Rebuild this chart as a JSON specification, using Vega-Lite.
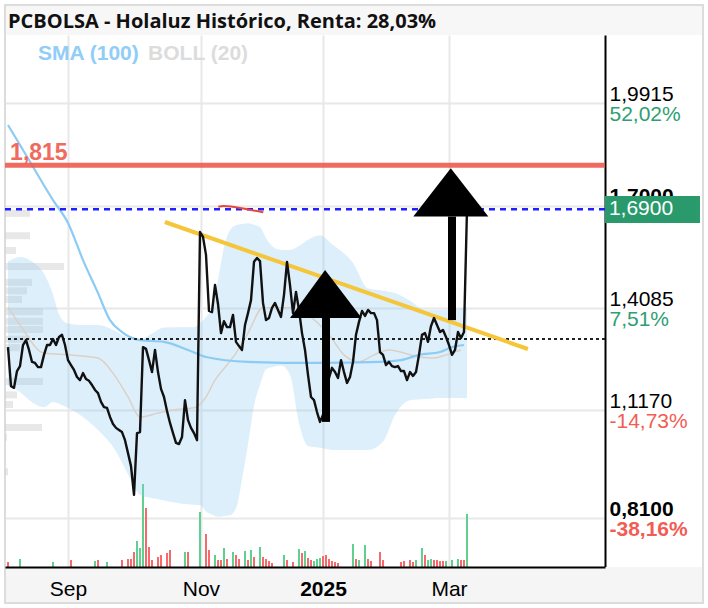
{
  "$schema": "https://vega.github.io/schema/vega-lite/v6.json",
  "width": 600,
  "height": 532,
  "autosize": {"type": "none"},
  "padding": {"left": 5, "top": 35, "right": 103, "bottom": 41},
  "background": "white",
  "config": {"view": {"stroke": null}, "font": "Liberation Sans"},
  "data": {"values": [{"k": 1}]},
  "datasets": {
    "price": [
      {"i":-20,"p":1.297},{"i":-19,"p":1.186},{"i":-18,"p":1.181},{"i":-17,"p":1.229},{"i":-16,"p":1.243},{"i":-15,"p":1.303},{"i":-14,"p":1.317},{"i":-13,"p":1.289},{"i":-12,"p":1.255},{"i":-11,"p":1.252},
      {"i":-10,"p":1.240},{"i":-9,"p":1.240},{"i":-8,"p":1.275},{"i":-7,"p":1.303},{"i":-6,"p":1.303},{"i":-5,"p":1.320},{"i":-4,"p":1.303},{"i":-3,"p":1.326},{"i":-2,"p":1.332},{"i":-1,"p":1.303},
      {"i":0,"p":1.260},{"i":1,"p":1.246},{"i":2,"p":1.232},{"i":3,"p":1.212},{"i":4,"p":1.203},{"i":5,"p":1.223},{"i":6,"p":1.206},{"i":7,"p":1.201},{"i":8,"p":1.189},{"i":9,"p":1.175},
      {"i":10,"p":1.166},{"i":11,"p":1.141},{"i":12,"p":1.126},{"i":13,"p":1.124},{"i":14,"p":1.098},{"i":15,"p":1.078},{"i":16,"p":1.067},{"i":17,"p":1.061},{"i":18,"p":1.055},{"i":19,"p":1.032},
      {"i":20,"p":0.995},{"i":21,"p":0.958},{"i":22,"p":0.876},{"i":23,"p":1.052},{"i":24,"p":1.055},{"i":25,"p":1.297},{"i":26,"p":1.292},{"i":27,"p":1.260},{"i":28,"p":1.226},{"i":29,"p":1.289},
      {"i":30,"p":1.226},{"i":31,"p":1.178},{"i":32,"p":1.155},{"i":33,"p":1.115},{"i":34,"p":1.081},{"i":35,"p":1.052},{"i":36,"p":1.024},{"i":37,"p":1.021},{"i":38,"p":1.041},{"i":39,"p":1.146},
      {"i":40,"p":1.089},{"i":41,"p":1.067},{"i":42,"p":1.052},{"i":43,"p":1.032},{"i":44,"p":1.625},{"i":45,"p":1.611},{"i":46,"p":1.560},{"i":47,"p":1.400},{"i":48,"p":1.397},{"i":49,"p":1.474},
      {"i":50,"p":1.420},{"i":51,"p":1.337},{"i":52,"p":1.371},{"i":53,"p":1.354},{"i":54,"p":1.354},{"i":55,"p":1.389},{"i":56,"p":1.312},{"i":57,"p":1.300},{"i":58,"p":1.289},{"i":59,"p":1.360},
      {"i":60,"p":1.394},{"i":61,"p":1.431},{"i":62,"p":1.540},{"i":63,"p":1.551},{"i":64,"p":1.542},{"i":65,"p":1.423},{"i":66,"p":1.374},{"i":67,"p":1.380},{"i":68,"p":1.409},{"i":69,"p":1.423},
      {"i":70,"p":1.403},{"i":71,"p":1.383},{"i":72,"p":1.446},{"i":73,"p":1.540},{"i":74,"p":1.474},{"i":75,"p":1.394},{"i":76,"p":1.454},{"i":77,"p":1.403},{"i":78,"p":1.337},{"i":79,"p":1.289},
      {"i":80,"p":1.218},{"i":81,"p":1.155},{"i":82,"p":1.146},{"i":83,"p":1.112},{"i":84,"p":1.084},{"i":85,"p":1.104},{"i":86,"p":1.161},{"i":87,"p":1.209},{"i":88,"p":1.238},{"i":89,"p":1.226},
      {"i":90,"p":1.209},{"i":91,"p":1.260},{"i":92,"p":1.226},{"i":93,"p":1.195},{"i":94,"p":1.212},{"i":95,"p":1.255},{"i":96,"p":1.332},{"i":97,"p":1.369},{"i":98,"p":1.400},{"i":99,"p":1.386},
      {"i":100,"p":1.403},{"i":101,"p":1.394},{"i":102,"p":1.394},{"i":103,"p":1.374},{"i":104,"p":1.283},{"i":105,"p":1.275},{"i":106,"p":1.246},{"i":107,"p":1.255},{"i":108,"p":1.243},{"i":109,"p":1.240},
      {"i":110,"p":1.243},{"i":111,"p":1.229},{"i":112,"p":1.229},{"i":113,"p":1.203},{"i":114,"p":1.226},{"i":115,"p":1.215},{"i":116,"p":1.226},{"i":117,"p":1.275},{"i":118,"p":1.332},{"i":119,"p":1.337},
      {"i":120,"p":1.312},{"i":121,"p":1.357},{"i":122,"p":1.380},{"i":123,"p":1.360},{"i":124,"p":1.340},{"i":125,"p":1.346},{"i":126,"p":1.326},{"i":127,"p":1.303},{"i":128,"p":1.275},{"i":129,"p":1.289},
      {"i":130,"p":1.340},{"i":131,"p":1.323},{"i":132,"p":1.340},{"i":133,"p":1.690}
    ],
    "vol": [
      {"i":-20,"v":5,"d":"down"},{"i":-16,"v":8,"d":"up"},{"i":-5,"v":5,"d":"up"},{"i":1,"v":7,"d":"down"},{"i":9,"v":6,"d":"up"},{"i":10,"v":7,"d":"down"},{"i":13,"v":5,"d":"up"},{"i":18,"v":7,"d":"down"},
      {"i":20,"v":8,"d":"down"},{"i":21,"v":8,"d":"down"},{"i":22,"v":15,"d":"down"},{"i":23,"v":26,"d":"up"},{"i":24,"v":19,"d":"up"},{"i":25,"v":83,"d":"up"},{"i":26,"v":59,"d":"down"},{"i":27,"v":20,"d":"down"},
      {"i":28,"v":7,"d":"down"},{"i":30,"v":10,"d":"down"},{"i":31,"v":12,"d":"down"},{"i":33,"v":14,"d":"down"},{"i":34,"v":17,"d":"down"},{"i":39,"v":15,"d":"up"},{"i":40,"v":15,"d":"down"},
      {"i":44,"v":55,"d":"up"},{"i":46,"v":33,"d":"down"},{"i":47,"v":17,"d":"down"},{"i":49,"v":12,"d":"up"},{"i":50,"v":7,"d":"down"},{"i":51,"v":7,"d":"down"},{"i":52,"v":19,"d":"up"},{"i":53,"v":8,"d":"down"},
      {"i":55,"v":15,"d":"up"},{"i":56,"v":12,"d":"down"},{"i":57,"v":8,"d":"down"},{"i":59,"v":16,"d":"up"},{"i":60,"v":7,"d":"down"},{"i":61,"v":17,"d":"up"},{"i":62,"v":10,"d":"down"},{"i":64,"v":20,"d":"up"},
      {"i":65,"v":10,"d":"down"},{"i":66,"v":8,"d":"down"},{"i":67,"v":6,"d":"down"},{"i":68,"v":4,"d":"down"},{"i":72,"v":12,"d":"up"},{"i":73,"v":7,"d":"down"},{"i":75,"v":5,"d":"down"},{"i":77,"v":18,"d":"up"},
      {"i":78,"v":14,"d":"down"},{"i":79,"v":16,"d":"up"},{"i":80,"v":9,"d":"down"},{"i":81,"v":7,"d":"down"},{"i":82,"v":6,"d":"up"},{"i":83,"v":8,"d":"up"},{"i":84,"v":9,"d":"up"},{"i":85,"v":11,"d":"down"},
      {"i":86,"v":12,"d":"down"},{"i":87,"v":8,"d":"down"},{"i":88,"v":6,"d":"down"},{"i":89,"v":5,"d":"down"},{"i":90,"v":4,"d":"down"},{"i":95,"v":23,"d":"up"},{"i":96,"v":8,"d":"down"},{"i":97,"v":7,"d":"up"},
      {"i":99,"v":22,"d":"up"},{"i":100,"v":8,"d":"down"},{"i":101,"v":6,"d":"down"},{"i":104,"v":15,"d":"down"},{"i":105,"v":7,"d":"down"},{"i":111,"v":5,"d":"down"},{"i":112,"v":6,"d":"down"},{"i":114,"v":7,"d":"down"},
      {"i":115,"v":5,"d":"down"},{"i":116,"v":7,"d":"up"},{"i":118,"v":19,"d":"up"},{"i":119,"v":12,"d":"down"},{"i":120,"v":7,"d":"up"},{"i":121,"v":8,"d":"up"},{"i":122,"v":7,"d":"down"},{"i":123,"v":7,"d":"down"},
      {"i":124,"v":6,"d":"down"},{"i":125,"v":6,"d":"down"},{"i":126,"v":6,"d":"up"},{"i":128,"v":7,"d":"up"},{"i":130,"v":8,"d":"up"},{"i":131,"v":7,"d":"down"},{"i":132,"v":7,"d":"down"},{"i":133,"v":53,"d":"up"}
    ],
    "profile": [
      {"p":1.683,"w":25},{"p":1.618,"w":25},{"p":1.575,"w":11},{"p":1.5285,"w":59},{"p":1.4825,"w":27},{"p":1.458,"w":22},{"p":1.433,"w":17},{"p":1.397,"w":38},{"p":1.370,"w":38},
      {"p":1.3455,"w":38},{"p":1.3175,"w":25},{"p":1.293,"w":15},{"p":1.195,"w":38},{"p":1.156,"w":12},{"p":1.128,"w":8},{"p":1.061,"w":37},{"p":1.0325,"w":2},{"p":0.9325,"w":3}
    ],
    "band": [
      {"i":-20,"hi":1.541,"lo":1.188},{"i":-16,"hi":1.554,"lo":1.169},{"i":-12,"hi":1.541,"lo":1.140},{"i":-8,"hi":1.506,"lo":1.126},{"i":-5,"hi":1.448,"lo":1.141},{"i":-3,"hi":1.390,"lo":1.136},
      {"i":0,"hi":1.364,"lo":1.124},{"i":4,"hi":1.360,"lo":1.104},{"i":10,"hi":1.360,"lo":1.061},{"i":16,"hi":1.342,"lo":1.000},{"i":20,"hi":1.324,"lo":0.935},{"i":24,"hi":1.319,"lo":0.876},
      {"i":28,"hi":1.336,"lo":0.867},{"i":32,"hi":1.353,"lo":0.860},{"i":38,"hi":1.354,"lo":0.851},{"i":42,"hi":1.354,"lo":0.848},{"i":44,"hi":1.365,"lo":0.847},{"i":46,"hi":1.383,"lo":0.829},
      {"i":48,"hi":1.411,"lo":0.820},{"i":50,"hi":1.488,"lo":0.814},{"i":52,"hi":1.582,"lo":0.816},{"i":54,"hi":1.630,"lo":0.818},{"i":56,"hi":1.644,"lo":0.838},{"i":58,"hi":1.648,"lo":0.920},
      {"i":60,"hi":1.650,"lo":1.020},{"i":62,"hi":1.646,"lo":1.130},{"i":64,"hi":1.639,"lo":1.190},{"i":66,"hi":1.608,"lo":1.234},{"i":68,"hi":1.585,"lo":1.240},{"i":71,"hi":1.574,"lo":1.245},
      {"i":74,"hi":1.574,"lo":1.218},{"i":77,"hi":1.585,"lo":1.080},{"i":80,"hi":1.603,"lo":1.015},{"i":84,"hi":1.616,"lo":1.010},{"i":88,"hi":1.590,"lo":1.004},{"i":95,"hi":1.537,"lo":1.004},
      {"i":100,"hi":1.464,"lo":1.004},{"i":105,"hi":1.458,"lo":1.028},{"i":109,"hi":1.451,"lo":1.104},{"i":114,"hi":1.429,"lo":1.146},{"i":119,"hi":1.403,"lo":1.149},{"i":124,"hi":1.403,"lo":1.152},
      {"i":129,"hi":1.406,"lo":1.152},{"i":133,"hi":1.411,"lo":1.152}
    ],
    "mid": [
      {"i":-20,"p":1.411},{"i":-16,"p":1.360},{"i":-8,"p":1.280},{"i":0,"p":1.275},{"i":10,"p":1.266},{"i":15,"p":1.223},{"i":20,"p":1.155},{"i":24,"p":1.098},{"i":30,"p":1.109},{"i":35,"p":1.118},
      {"i":42,"p":1.124},{"i":46,"p":1.155},{"i":49,"p":1.203},{"i":53,"p":1.246},{"i":56,"p":1.280},{"i":60,"p":1.337},{"i":65,"p":1.409},{"i":76,"p":1.409},{"i":80,"p":1.389},{"i":87,"p":1.332},
      {"i":92,"p":1.275},{"i":97,"p":1.255},{"i":102,"p":1.275},{"i":107,"p":1.289},{"i":117,"p":1.269},{"i":122,"p":1.266},{"i":126,"p":1.275},{"i":131,"p":1.289}
    ],
    "sma": [
      {"i":-20,"p":1.930},{"i":-13,"p":1.830},{"i":-5,"p":1.716},{"i":0,"p":1.651},{"i":5,"p":1.545},{"i":10,"p":1.451},{"i":14,"p":1.374},{"i":18,"p":1.340},{"i":24,"p":1.317},{"i":32,"p":1.312},
      {"i":40,"p":1.289},{"i":46,"p":1.269},{"i":60,"p":1.255},{"i":82,"p":1.252},{"i":104,"p":1.255},{"i":111,"p":1.260},{"i":117,"p":1.275},{"i":124,"p":1.283},{"i":128,"p":1.297},{"i":132,"p":1.303}
    ],
    "trend": [{"i":32.3,"p":1.6535,"i2":153.3,"p2":1.2917}],
    "redmark": [{"i":50.1,"p":1.697},{"i":51.8,"p":1.699},{"i":59.6,"p":1.690},{"i":65.1,"p":1.681}],
    "heads": [
      {"g":"a","i":74,"top":1.380,"base":1.380},{"g":"a","i":85.7,"top":1.517,"base":1.380},{"g":"a","i":97.9,"top":1.380,"base":1.380},
      {"g":"b","i":115.1,"top":1.669,"base":1.669},{"g":"b","i":127.6,"top":1.807,"base":1.669},{"g":"b","i":140.1,"top":1.669,"base":1.669}
    ],
    "shafts": [{"i":86,"p1":1.380,"p2":1.084},{"i":128,"p1":1.669,"p2":1.374}]
  },
  "layer": [
    {
      "mark": {"type": "point", "shape": "M-1,-0.043H1V0.043H-1Z", "size": 487204, "filled": true, "color": "#f7f7f7", "opacity": 1, "clip": false},
      "encoding": {
        "x": {"datum": 95.333, "type": "quantitative", "scale": {"domain": [-21, 179], "nice": false, "zero": false, "padding": 0}, "axis": null},
        "y": {"datum": 2.229, "type": "quantitative", "scale": {"domain": [0.6706, 2.1863], "nice": false, "zero": false}, "axis": null}
      }
    },
    {
      "mark": {"type": "point", "shape": "M-1,-0.0516H1V0.0516H-1Z", "size": 487204, "filled": true, "color": "#f5f5f5", "opacity": 1, "clip": false},
      "encoding": {
        "x": {"datum": 95.333, "type": "quantitative", "scale": {"domain": [-21, 179], "nice": false, "zero": false, "padding": 0}, "axis": null},
        "y": {"datum": 0.6193, "type": "quantitative", "scale": {"domain": [0.6706, 2.1863], "nice": false, "zero": false}, "axis": null}
      }
    },
    {
      "mark": {"type": "point", "shape": "M-1,-0.8567H1V0.8567H-1Z", "size": 487204, "filled": false, "color": "#dcdcdc", "strokeWidth": 2, "opacity": 1, "clip": false},
      "encoding": {
        "x": {"datum": 95.333, "type": "quantitative", "scale": {"domain": [-21, 179], "nice": false, "zero": false, "padding": 0}, "axis": null},
        "y": {"datum": 1.4199, "type": "quantitative", "scale": {"domain": [0.6706, 2.1863], "nice": false, "zero": false}, "axis": null}
      }
    },
    {
      "mark": {"type": "text", "align": "left", "baseline": "alphabetic", "fontSize": 20, "fontWeight": "bold", "font": "Open Sans", "color": "#111111", "clip": false, "text": "PCBOLSA - Holaluz Histórico, Renta: 28,03%"},
      "encoding": {
        "x": {"datum": -20, "type": "quantitative", "scale": {"domain": [-21, 179], "nice": false, "zero": false, "padding": 0}, "axis": null},
        "y": {"datum": 2.2062, "type": "quantitative", "scale": {"domain": [0.6706, 2.1863], "nice": false, "zero": false}, "axis": null}
      }
    },
    {
      "data": {"name": "profile"},
      "mark": {"type": "bar", "orient": "horizontal", "size": 7, "color": "#d2d2d2", "opacity": 0.5},
      "encoding": {
        "x": {"field": "w", "type": "quantitative", "scale": {"domain": [0, 600], "nice": false, "padding": 0}, "axis": null},
        "y": {"field": "p", "type": "quantitative", "scale": {"domain": [0.6706, 2.1863], "nice": false, "zero": false}, "axis": null}
      }
    },
    {
      "data": {"name": "vol"},
      "mark": {"type": "bar", "size": 2},
      "encoding": {
        "x": {"field": "i", "type": "quantitative", "scale": {"domain": [-21, 179], "nice": false, "zero": false, "padding": 0}, "axis": null},
        "y": {"field": "v", "type": "quantitative", "stack": null, "scale": {"domain": [0, 532], "nice": false}, "axis": null},
        "color": {"field": "d", "type": "nominal", "scale": {"domain": ["up", "down"], "range": ["#5fd08f", "#f56a6a"]}, "legend": null}
      }
    },
    {
      "data": {"name": "band"},
      "mark": {"type": "area", "color": "#8fc9f2", "opacity": 0.3, "interpolate": "monotone"},
      "encoding": {
        "x": {"field": "i", "type": "quantitative", "scale": {"domain": [-21, 179], "nice": false, "zero": false, "padding": 0},
          "axis": {"orient": "bottom", "values": [0, 44.3, 85, 127], "title": null, "grid": true, "gridColor": "#e8e8e8", "gridWidth": 2, "labels": false, "domain": false, "ticks": false, "tickSize": 0, "zindex": 0}},
        "y": {"field": "hi", "type": "quantitative", "scale": {"domain": [0.6706, 2.1863], "nice": false, "zero": false}, "axis": null},
        "y2": {"field": "lo"}
      }
    },
    {
      "data": {"name": "mid"},
      "mark": {"type": "line", "color": "#dbd0c6", "strokeWidth": 1.5, "interpolate": "monotone"},
      "encoding": {
        "x": {"field": "i", "type": "quantitative", "scale": {"domain": [-21, 179], "nice": false, "zero": false, "padding": 0}, "axis": null},
        "y": {"field": "p", "type": "quantitative", "scale": {"domain": [0.6706, 2.1863], "nice": false, "zero": false}, "axis": null}
      }
    },
    {
      "data": {"name": "sma"},
      "mark": {"type": "line", "color": "#8ccbf4", "strokeWidth": 2.2, "interpolate": "monotone"},
      "encoding": {
        "x": {"field": "i", "type": "quantitative", "scale": {"domain": [-21, 179], "nice": false, "zero": false, "padding": 0}, "axis": null},
        "y": {"field": "p", "type": "quantitative", "scale": {"domain": [0.6706, 2.1863], "nice": false, "zero": false}, "axis": null}
      }
    },
    {
      "mark": {"type": "rule", "color": "#222222", "strokeWidth": 2, "strokeDash": [3, 3]},
      "encoding": {
        "y": {"datum": 1.32, "type": "quantitative", "scale": {"domain": [0.6706, 2.1863], "nice": false, "zero": false},
          "axis": {"orient": "right", "values": [0.81, 1.117, 1.4085, 1.9915], "labelExpr": "datum.value > 1.9 ? '52,02%' : datum.value > 1.3 ? '7,51%' : datum.value > 1 ? '-14,73%' : '-38,16%'", "title": null, "grid": false, "domain": false, "ticks": false, "tickSize": 0, "labelPadding": 4, "labelBaseline": "alphabetic", "labelOffset": 17, "labelFontSize": 21, "labelFont": "Liberation Sans",
            "labelColor": {"condition": {"test": "datum.value > 1.32", "value": "#2f9e72"}, "value": "#f25c54"},
            "labelFontWeight": {"condition": {"test": "datum.value < 0.9", "value": "bold"}, "value": "normal"},
            "labelFlush": false, "labelOverlap": false, "zindex": 0}}
      }
    },
    {
      "mark": {"type": "rule", "color": "#1f1fff", "strokeWidth": 2.5, "strokeDash": [6, 5]},
      "encoding": {"y": {"datum": 1.69, "type": "quantitative", "scale": {"domain": [0.6706, 2.1863], "nice": false, "zero": false}, "axis": null}}
    },
    {
      "mark": {"type": "rule", "color": "#ee5a4e", "strokeWidth": 5, "opacity": 0.9},
      "encoding": {"y": {"datum": 1.815, "type": "quantitative", "scale": {"domain": [0.6706, 2.1863], "nice": false, "zero": false}, "axis": null}}
    },
    {
      "mark": {"type": "text", "align": "left", "baseline": "alphabetic", "dy": -5, "fontSize": 23, "fontWeight": "bold", "color": "#ee5a4e", "opacity": 0.9, "font": "Liberation Sans", "text": "1,815"},
      "encoding": {
        "x": {"datum": -19.3, "type": "quantitative", "scale": {"domain": [-21, 179], "nice": false, "zero": false, "padding": 0}, "axis": null},
        "y": {"datum": 1.815, "type": "quantitative", "scale": {"domain": [0.6706, 2.1863], "nice": false, "zero": false}, "axis": null}
      }
    },
    {
      "data": {"name": "trend"},
      "mark": {"type": "rule", "color": "#f5c53a", "strokeWidth": 4},
      "encoding": {
        "x": {"field": "i", "type": "quantitative", "scale": {"domain": [-21, 179], "nice": false, "zero": false, "padding": 0}, "axis": null},
        "x2": {"field": "i2"},
        "y": {"field": "p", "type": "quantitative", "scale": {"domain": [0.6706, 2.1863], "nice": false, "zero": false}, "axis": null},
        "y2": {"field": "p2"}
      }
    },
    {
      "data": {"name": "redmark"},
      "mark": {"type": "line", "color": "#e8463c", "strokeWidth": 2, "interpolate": "monotone"},
      "encoding": {
        "x": {"field": "i", "type": "quantitative", "scale": {"domain": [-21, 179], "nice": false, "zero": false, "padding": 0}, "axis": null},
        "y": {"field": "p", "type": "quantitative", "scale": {"domain": [0.6706, 2.1863], "nice": false, "zero": false}, "axis": null}
      }
    },
    {
      "data": {"name": "price"},
      "mark": {"type": "line", "color": "#111111", "strokeWidth": 2.4, "strokeJoin": "round"},
      "encoding": {
        "x": {"field": "i", "type": "quantitative", "scale": {"domain": [-21, 179], "nice": false, "zero": false, "padding": 0},
          "axis": {"orient": "bottom", "values": [0, 44.3, 85, 127], "labelExpr": "datum.value < 20 ? 'Sep' : datum.value < 60 ? 'Nov' : datum.value < 100 ? '2025' : 'Mar'", "title": null, "grid": false, "domain": true, "domainColor": "#000000", "domainWidth": 2, "ticks": false, "tickSize": 0, "labelPadding": 28, "labelBaseline": "alphabetic", "labelFontSize": 21, "labelFont": "Liberation Sans", "labelColor": "#000000",
            "labelFontWeight": {"condition": {"test": "datum.value > 80 && datum.value < 100", "value": "bold"}, "value": "normal"},
            "labelAngle": 0, "labelAlign": "center", "labelOverlap": false, "labelFlush": false, "zindex": 1}},
        "y": {"field": "p", "type": "quantitative", "scale": {"domain": [0.6706, 2.1863], "nice": false, "zero": false},
          "axis": {"orient": "right", "values": [0.81, 1.117, 1.4085, 1.7, 1.9915], "labelExpr": "replace(format(datum.value, '.4f'), '.', ',')", "title": null, "grid": true, "gridColor": "#e8e8e8", "gridWidth": 2, "domain": true, "domainColor": "#000000", "domainWidth": 2, "ticks": false, "tickSize": 0, "labelPadding": 4, "labelBaseline": "alphabetic", "labelOffset": -3, "labelFontSize": 21, "labelFont": "Liberation Sans", "labelColor": "#000000",
            "labelFontWeight": {"condition": {"test": "datum.value < 0.9 || (datum.value > 1.69 && datum.value < 1.71)", "value": "bold"}, "value": "normal"},
            "labelFlush": false, "labelOverlap": false, "zindex": 0}}
      }
    },
    {
      "data": {"name": "heads"},
      "mark": {"type": "area", "color": "#000000", "interpolate": "linear", "opacity": 1},
      "encoding": {
        "x": {"field": "i", "type": "quantitative", "scale": {"domain": [-21, 179], "nice": false, "zero": false, "padding": 0}, "axis": null},
        "y": {"field": "top", "type": "quantitative", "scale": {"domain": [0.6706, 2.1863], "nice": false, "zero": false}, "axis": null},
        "y2": {"field": "base"},
        "detail": {"field": "g", "type": "nominal"}
      }
    },
    {
      "data": {"name": "shafts"},
      "mark": {"type": "rule", "color": "#000000", "strokeWidth": 8, "strokeCap": "butt"},
      "encoding": {
        "x": {"field": "i", "type": "quantitative", "scale": {"domain": [-21, 179], "nice": false, "zero": false, "padding": 0}, "axis": null},
        "y": {"field": "p1", "type": "quantitative", "scale": {"domain": [0.6706, 2.1863], "nice": false, "zero": false}, "axis": null},
        "y2": {"field": "p2"}
      }
    },
    {
      "mark": {"type": "text", "align": "left", "baseline": "alphabetic", "fontSize": 21, "fontWeight": "bold", "color": "#90cdf7", "font": "Liberation Sans", "text": "SMA (100)"},
      "encoding": {
        "x": {"datum": -10, "type": "quantitative", "scale": {"domain": [-21, 179], "nice": false, "zero": false, "padding": 0}, "axis": null},
        "y": {"datum": 2.1151, "type": "quantitative", "scale": {"domain": [0.6706, 2.1863], "nice": false, "zero": false}, "axis": null}
      }
    },
    {
      "mark": {"type": "text", "align": "left", "baseline": "alphabetic", "fontSize": 21, "fontWeight": "bold", "color": "#dcdcdc", "font": "Liberation Sans", "text": "BOLL (20)"},
      "encoding": {
        "x": {"datum": 26.7, "type": "quantitative", "scale": {"domain": [-21, 179], "nice": false, "zero": false, "padding": 0}, "axis": null},
        "y": {"datum": 2.1151, "type": "quantitative", "scale": {"domain": [0.6706, 2.1863], "nice": false, "zero": false}, "axis": null}
      }
    },
    {
      "mark": {"type": "point", "shape": "M-1,-0.284H1V0.284H-1Z", "size": 9025, "filled": true, "color": "#2a9a6d", "opacity": 1, "clip": false},
      "encoding": {
        "x": {"datum": 194.83, "type": "quantitative", "scale": {"domain": [-21, 179], "nice": false, "zero": false, "padding": 0}, "axis": null},
        "y": {"datum": 1.6891, "type": "quantitative", "scale": {"domain": [0.6706, 2.1863], "nice": false, "zero": false}, "axis": null}
      }
    },
    {
      "mark": {"type": "text", "align": "left", "baseline": "middle", "fontSize": 21, "color": "#ffffff", "font": "Liberation Sans", "clip": false, "text": "1,6900"},
      "encoding": {
        "x": {"datum": 180.3, "type": "quantitative", "scale": {"domain": [-21, 179], "nice": false, "zero": false, "padding": 0}, "axis": null},
        "y": {"datum": 1.69, "type": "quantitative", "scale": {"domain": [0.6706, 2.1863], "nice": false, "zero": false}, "axis": null}
      }
    }
  ],
  "resolve": {"scale": {"x": "independent", "y": "independent"}}
}
